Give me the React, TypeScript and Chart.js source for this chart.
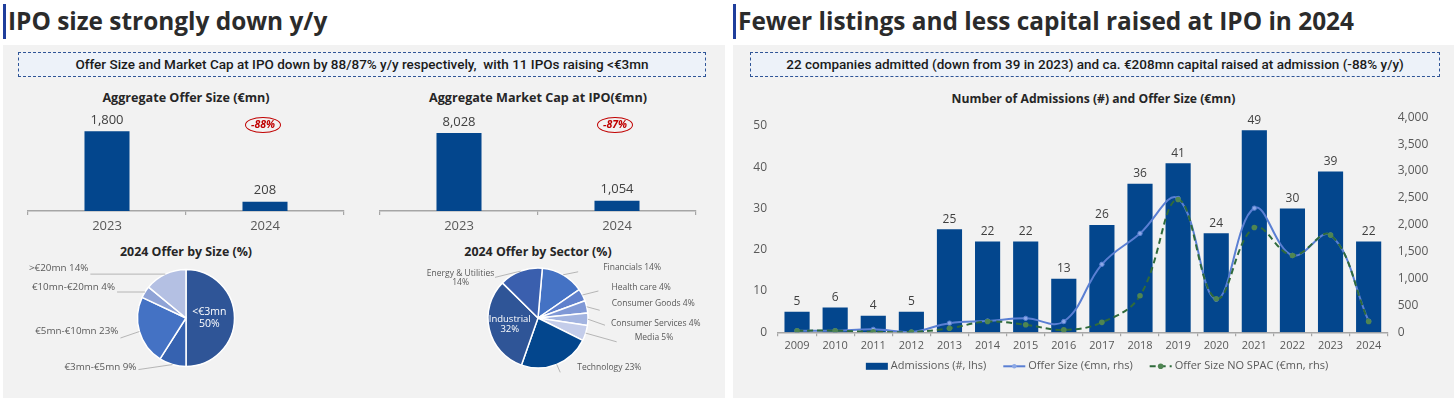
import React, { useEffect, useRef } from "react";
import { Chart, registerables } from "chart.js";

Chart.register(...registerables);

const FONT = "'Open Sans', 'DejaVu Sans', sans-serif";
Chart.defaults.font.family = FONT;

// ---------------- data ----------------
const aggYears = ["2023", "2024"];
const aggOfferSize = [1800, 208];
const aggMarketCap = [8028, 1054];
const offerSizeChange = "-88%";
const marketCapChange = "-87%";

const sizeBuckets = ["<€3mn", "€3mn-€5mn", "€5mn-€10mn", "€10mn-€20mn", ">€20mn"];
const sizeShares = [50, 9, 23, 4, 14];

const sectors = [
  "Financials",
  "Health care",
  "Consumer Goods",
  "Consumer Services",
  "Media",
  "Technology",
  "Industrial",
  "Energy & Utilities",
];
const sectorShares = [14, 4, 4, 4, 5, 23, 32, 14];

const years = ["2009", "2010", "2011", "2012", "2013", "2014", "2015", "2016", "2017", "2018", "2019", "2020", "2021", "2022", "2023", "2024"];
const admissions = [5, 6, 4, 5, 25, 22, 22, 13, 26, 36, 41, 24, 49, 30, 39, 22];
const offerSizeRhs = [30, 30, 55, 5, 170, 210, 260, 200, 1265, 1840, 2490, 615, 2310, 1430, 1810, 208];
const offerSizeNoSpac = [30, 30, 8, 5, 75, 200, 140, 45, 185, 680, 2470, 625, 1950, 1430, 1810, 200];

const lhsTicks = { max: 50, step: 10 };
const rhsTicks = { max: 4000, step: 500 };

const seriesNames = ["Admissions (#, lhs)", "Offer Size (€mn, rhs)", "Offer Size NO SPAC (€mn, rhs)"];

// ---------------- styles ----------------
const NAVY = "#03468d";
const AXIS = "#a6a6a6";
const TICK = "#595959";
const LABEL = "#404040";

const fmt = (v: number) => Number(v).toLocaleString("en-US");

// ---------------- plugins ----------------
function barValueLabels(fontSize: number, offset: number) {
  return {
    id: "barValueLabels",
    afterDatasetsDraw(chart: any) {
      const ctx = chart.ctx;
      chart.data.datasets.forEach((ds: any, di: number) => {
        const type = ds.type ?? chart.config.type;
        if (type !== "bar") return;
        const meta = chart.getDatasetMeta(di);
        meta.data.forEach((el: any, i: number) => {
          ctx.save();
          ctx.font = `${fontSize}px ${FONT}`;
          ctx.fillStyle = LABEL;
          ctx.textAlign = "center";
          ctx.textBaseline = "middle";
          ctx.fillText(fmt(ds.data[i]), el.x, el.y - offset);
          ctx.restore();
        });
      });
    },
  };
}

type PieItem = {
  inside?: boolean;
  r?: number;
  lx?: number;
  ly?: number;
  tx?: number;
  ty?: number;
  align?: CanvasTextAlign;
  split?: boolean;
};

function pieLabels(items: PieItem[], fontSize: number, insideSize: number, lineH: number) {
  return {
    id: "pieLabels",
    afterDatasetsDraw(chart: any) {
      const ctx = chart.ctx;
      const labels = chart.data.labels as string[];
      const values = chart.data.datasets[0].data as number[];
      const meta = chart.getDatasetMeta(0);
      meta.data.forEach((arc: any, i: number) => {
        const it = items[i];
        if (!it) return;
        const p = arc.getProps(["x", "y", "startAngle", "endAngle", "outerRadius"], true);
        const a = (p.startAngle + p.endAngle) / 2;
        ctx.save();
        if (it.inside) {
          const px = p.x + Math.cos(a) * p.outerRadius * (it.r ?? 0.5);
          const py = p.y + Math.sin(a) * p.outerRadius * (it.r ?? 0.5);
          const lines = [labels[i], `${values[i]}%`];
          ctx.font = `${insideSize}px ${FONT}`;
          ctx.fillStyle = "#ffffff";
          ctx.textAlign = "center";
          ctx.textBaseline = "middle";
          const lh = insideSize * 1.1;
          lines.forEach((l, k) => ctx.fillText(l, px, py + (k - (lines.length - 1) / 2) * lh));
        } else {
          const ex = p.x + Math.cos(a) * p.outerRadius;
          const ey = p.y + Math.sin(a) * p.outerRadius;
          const ox = ex + (it.lx ?? 0);
          const oy = ey + (it.ly ?? 0);
          ctx.strokeStyle = AXIS;
          ctx.lineWidth = 0.8;
          ctx.beginPath();
          ctx.moveTo(ex, ey);
          ctx.lineTo(ox, oy);
          ctx.stroke();
          const lines = it.split ? [labels[i], `${values[i]}%`] : [`${labels[i]} ${values[i]}%`];
          ctx.font = `${fontSize}px ${FONT}`;
          ctx.fillStyle = TICK;
          ctx.textAlign = it.align ?? "left";
          ctx.textBaseline = "middle";
          lines.forEach((l, k) => ctx.fillText(l, ox + (it.tx ?? 0), oy + (it.ty ?? 0) + k * lineH));
        }
        ctx.restore();
      });
    },
  };
}

const comboLegend = {
  id: "comboLegend",
  afterDraw(chart: any) {
    const ctx = chart.ctx;
    const y = chart.chartArea.bottom + 34;
    ctx.save();
    ctx.font = `11px ${FONT}`;
    const symW = 22;
    const gap = 3;
    const itemGap = 17;
    const dss = chart.data.datasets;
    const widths = dss.map((ds: any) => symW + gap + ctx.measureText(ds.label).width);
    const total = widths.reduce((s: number, w: number) => s + w, 0) + itemGap * (dss.length - 1);
    let x = chart.width / 2 - total / 2;
    dss.forEach((ds: any, i: number) => {
      if (ds.type === "bar") {
        ctx.fillStyle = ds.backgroundColor;
        ctx.fillRect(x, y - 3.5, symW, 7);
      } else {
        ctx.strokeStyle = ds.borderColor;
        ctx.lineWidth = ds.borderWidth;
        ctx.setLineDash(ds.borderDash ?? []);
        ctx.beginPath();
        ctx.moveTo(x, y);
        ctx.lineTo(x + symW, y);
        ctx.stroke();
        ctx.setLineDash([]);
        ctx.fillStyle = ds.pointBackgroundColor;
        ctx.beginPath();
        ctx.arc(x + symW / 2, y, ds.pointRadius, 0, Math.PI * 2);
        ctx.fill();
      }
      ctx.fillStyle = TICK;
      ctx.textAlign = "left";
      ctx.textBaseline = "middle";
      ctx.fillText(ds.label, x + symW + gap, y);
      x += widths[i] + itemGap;
    });
    ctx.restore();
  },
};

// ---------------- configs ----------------
function aggBarConfig(values: number[], yMax: number) {
  return {
    type: "bar",
    data: {
      labels: aggYears,
      datasets: [{ data: values, backgroundColor: NAVY, barPercentage: 0.285, categoryPercentage: 1 }],
    },
    options: {
      animation: false,
      responsive: true,
      maintainAspectRatio: false,
      layout: { padding: { left: 8, right: 8, top: 0, bottom: 0 } },
      plugins: { legend: { display: false }, tooltip: { enabled: false } },
      scales: {
        x: {
          offset: true,
          grid: { display: true, drawOnChartArea: false, drawTicks: true, tickLength: 4, offset: true, color: AXIS, lineWidth: 1.2 },
          border: { display: true, color: AXIS, width: 1.5 },
          ticks: { color: TICK, font: { size: 13 }, padding: 3 },
          afterFit: (s: any) => {
            s.height = 24;
          },
        },
        y: { display: false, min: 0, max: yMax },
      },
    },
    plugins: [barValueLabels(13, 11)],
  };
}

function pieConfig(labels: string[], values: number[], colors: string[], radius: number, rotation: number, items: PieItem[], fontSize: number, insideSize: number, lineH: number) {
  return {
    type: "pie",
    data: {
      labels,
      datasets: [{ data: values, backgroundColor: colors, borderColor: "#ffffff", borderWidth: 1.5, radius, rotation }],
    },
    options: {
      animation: false,
      responsive: true,
      maintainAspectRatio: false,
      plugins: { legend: { display: false }, tooltip: { enabled: false } },
    },
    plugins: [pieLabels(items, fontSize, insideSize, lineH)],
  };
}

const sizeColors = ["#2f5597", "#3662b0", "#4472c4", "#8fa3d6", "#b4c0e3"];
const sizeItems: PieItem[] = [
  { inside: true, r: 0.48 },
  { lx: -34, ly: 5, tx: -2, ty: -2, align: "right" },
  { lx: -19, ly: 6.5, tx: -2, ty: -7, align: "right" },
  { lx: -28, ly: 0, tx: -2, ty: -5, align: "right" },
  { lx: -75, ly: 0, tx: -2, ty: -6, align: "right" },
];

const sectorColors = ["#4472c4", "#5f80cc", "#7f98d6", "#a3b4e0", "#c4cdea", "#03468d", "#2f5597", "#3a5fae"];
const sectorItems: PieItem[] = [
  { lx: 15, ly: -3, tx: 25, ty: -4 },
  { lx: 16, ly: -4, tx: 13, ty: -3 },
  { lx: 13, ly: 3.5, tx: 12, ty: -7 },
  { lx: 17, ly: 6, tx: 6, ty: -2 },
  { lx: 31, ly: 8.7, tx: 18, ty: -4 },
  { lx: 3.5, ly: 8, tx: 17, ty: -5 },
  { inside: true, r: 0.58 },
  { lx: -25.7, ly: 6.3, tx: -34.5, ty: -4, align: "center", split: true },
];

const noVerticalPadding = (s: any) => {
  s.paddingTop = 0;
  s.paddingBottom = 0;
};

const comboConfig = {
  type: "bar",
  data: {
    labels: years,
    datasets: [
      {
        type: "bar",
        label: seriesNames[0],
        data: admissions,
        backgroundColor: NAVY,
        yAxisID: "y",
        order: 3,
        barPercentage: 0.66,
        categoryPercentage: 1,
      },
      {
        type: "line",
        label: seriesNames[1],
        data: offerSizeRhs,
        yAxisID: "y1",
        borderColor: "#5a7fd3",
        borderWidth: 2,
        tension: 0.4,
        pointRadius: 2.2,
        pointBackgroundColor: "#8ca8e6",
        pointBorderColor: "#5a7fd3",
        pointBorderWidth: 1,
        order: 2,
      },
      {
        type: "line",
        label: seriesNames[2],
        data: offerSizeNoSpac,
        yAxisID: "y1",
        borderColor: "#2f6a3b",
        borderWidth: 2,
        borderDash: [6, 4],
        tension: 0.4,
        pointRadius: 2.8,
        pointBackgroundColor: "#4f8552",
        pointBorderWidth: 0,
        order: 1,
      },
    ],
  },
  options: {
    animation: false,
    responsive: true,
    maintainAspectRatio: false,
    layout: { padding: { top: 7.3, bottom: 39.7, left: 0, right: 0 } },
    plugins: { legend: { display: false }, tooltip: { enabled: false } },
    scales: {
      x: {
        offset: true,
        grid: { display: true, drawOnChartArea: false, drawTicks: true, tickLength: 4, offset: true, color: AXIS, lineWidth: 1.2 },
        border: { display: true, color: AXIS, width: 1.5 },
        ticks: { color: TICK, font: { size: 11 }, padding: 3, maxRotation: 0, autoSkip: false },
        afterFit: (s: any) => {
          s.height = 26;
        },
      },
      y: {
        position: "left",
        min: 0,
        max: (lhsTicks.max * 215) / 206.3,
        ticks: { stepSize: lhsTicks.step, includeBounds: false, padding: 11, color: TICK, font: { size: 12 }, callback: (v: any) => fmt(v) },
        grid: { display: false, drawTicks: false },
        border: { display: false },
        afterFit: (s: any) => {
          s.width = 38;
          noVerticalPadding(s);
        },
      },
      y1: {
        position: "right",
        min: 0,
        max: rhsTicks.max,
        ticks: { stepSize: rhsTicks.step, padding: 10, color: TICK, font: { size: 12 }, callback: (v: any) => fmt(v) },
        grid: { display: false, drawTicks: false },
        border: { display: false },
        afterFit: (s: any) => {
          s.width = 66.3;
          noVerticalPadding(s);
        },
      },
    },
  },
  plugins: [barValueLabels(12, 10), comboLegend],
};

// ---------------- components ----------------
function ChartBox({ config, style }: { config: any; style: React.CSSProperties }) {
  const ref = useRef<HTMLCanvasElement>(null);
  useEffect(() => {
    const chart = new Chart(ref.current as HTMLCanvasElement, config);
    return () => chart.destroy();
  }, []);
  return (
    <div style={{ position: "absolute", ...style }}>
      <canvas ref={ref} />
    </div>
  );
}

const abs = (s: React.CSSProperties): React.CSSProperties => ({ position: "absolute", ...s });

function Heading({ left, text }: { left: number; text: string }) {
  return (
    <>
      <div style={abs({ left, top: 4, width: 2.5, height: 35, background: "#1f3e9c" })} />
      <div
        style={abs({
          left: left + 5,
          top: 4,
          height: 34,
          lineHeight: "34px",
          fontSize: 24.4,
          fontWeight: 700,
          color: "#2b2b2b",
          whiteSpace: "nowrap",
        })}
      >
        {text}
      </div>
    </>
  );
}

function NoteBox({ left, width, text }: { left: number; width: number; text: string }) {
  return (
    <div
      style={abs({
        left,
        top: 52,
        width,
        height: 23,
        border: "1px dashed #2f5597",
        background: "#edf2f9",
        textAlign: "center",
        lineHeight: "23px",
        fontSize: 13.5,
        fontWeight: 500,
        color: "#1a1a1a",
        whiteSpace: "pre",
        fontFamily: "Roboto, sans-serif",
      })}
    >
      {text}
    </div>
  );
}

function ChartTitle({ left, width, top, text, size = 12 }: { left: number; width: number; top: number; text: string; size?: number }) {
  return (
    <div
      style={abs({
        left,
        width,
        top,
        height: 16,
        lineHeight: "16px",
        textAlign: "center",
        fontSize: size,
        fontWeight: 700,
        color: "#262626",
        whiteSpace: "nowrap",
      })}
    >
      {text}
    </div>
  );
}

function ChangeBadge({ cx, cy, text }: { cx: number; cy: number; text: string }) {
  return (
    <div
      style={abs({
        left: cx - 18,
        top: cy - 8,
        width: 36,
        height: 16,
        boxSizing: "border-box",
        border: "1.6px solid #c00000",
        borderRadius: "50%",
        textAlign: "center",
        lineHeight: "13px",
        fontSize: 10.5,
        fontWeight: 700,
        fontStyle: "italic",
        color: "#c00000",
      })}
    >
      {text}
    </div>
  );
}

export default function App() {
  return (
    <div
      style={{
        position: "fixed",
        left: 0,
        top: 0,
        width: 1456,
        height: 402,
        background: "#ffffff",
        overflow: "hidden",
        fontFamily: FONT,
      }}
    >
      <Heading left={3} text="IPO size strongly down y/y" />
      <Heading left={733} text="Fewer listings and less capital raised at IPO in 2024" />

      <div style={abs({ left: 3, top: 45, width: 722, height: 353, background: "#f2f2f2" })} />
      <div style={abs({ left: 733, top: 45, width: 721, height: 353, background: "#f2f2f2" })} />

      <NoteBox left={18} width={686} text="Offer Size and Market Cap at IPO down by 88/87% y/y respectively,  with 11 IPOs raising <€3mn" />
      <NoteBox left={750} width={688} text="22 companies admitted (down from 39 in 2023) and ca. €208mn capital raised at admission (-88% y/y)" />

      <ChartTitle left={20} width={332} top={90} size={12.6} text="Aggregate Offer Size (€mn)" />
      <ChartTitle left={372} width={332} top={90} size={12.6} text="Aggregate Market Cap at IPO(€mn)" />
      <ChartBox config={aggBarConfig(aggOfferSize, 2390)} style={{ left: 20, top: 105, width: 332, height: 130 }} />
      <ChartBox config={aggBarConfig(aggMarketCap, 10900)} style={{ left: 372, top: 105, width: 332, height: 130 }} />
      <ChangeBadge cx={263} cy={124.5} text={offerSizeChange} />
      <ChangeBadge cx={615} cy={125} text={marketCapChange} />

      <ChartTitle left={20} width={332} top={244} size={12.4} text="2024 Offer by Size (%)" />
      <ChartTitle left={372} width={332} top={244} size={12.4} text="2024 Offer by Sector (%)" />
      <ChartBox
        config={pieConfig(sizeBuckets, sizeShares, sizeColors, 48.5, 0, sizeItems, 9.8, 10.5, 10)}
        style={{ left: 20, top: 258, width: 332, height: 120 }}
      />
      <ChartBox
        config={pieConfig(sectors, sectorShares, sectorColors, 50, 5, sectorItems, 8.5, 9.5, 9.4)}
        style={{ left: 372, top: 258, width: 332, height: 120 }}
      />

      <ChartTitle left={733} width={721} top={91} size={12.2} text="Number of Admissions (#) and Offer Size (€mn)" />
      <ChartBox config={comboConfig} style={{ left: 740, top: 110, width: 714, height: 288 }} />
    </div>
  );
}
